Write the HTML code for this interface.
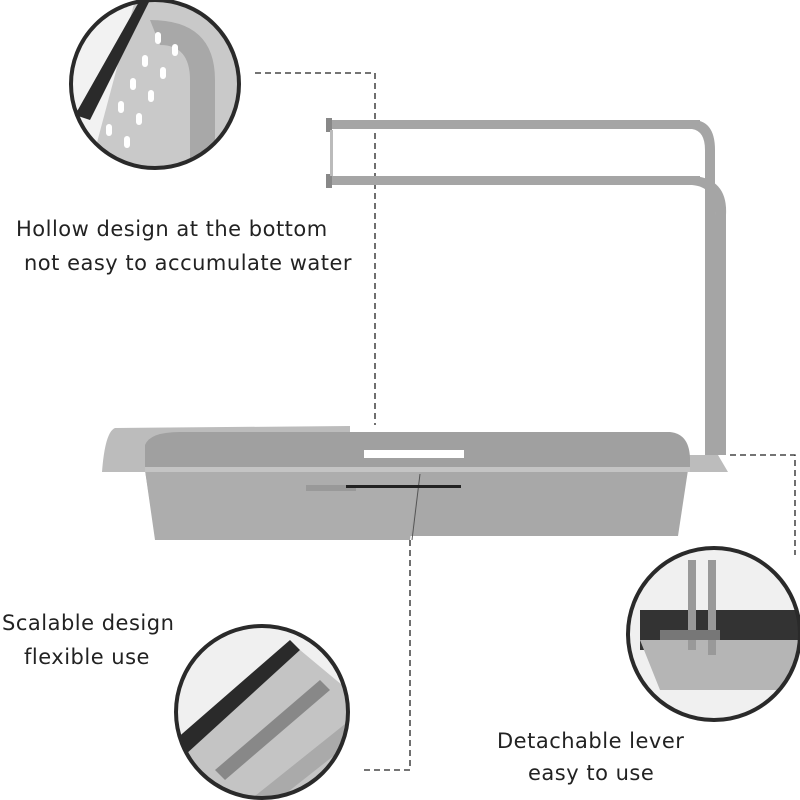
<!DOCTYPE html><html><head><style>body{margin:0;background:#fff}svg{display:block}text{font-family:"DejaVu Sans","Liberation Sans",sans-serif;font-size:21px;fill:#222;letter-spacing:0.5px}</style></head><body>
<svg width="800" height="800" viewBox="0 0 800 800">
<defs>
<clipPath id="c1"><circle cx="155" cy="84" r="84"/></clipPath>
<clipPath id="c2"><circle cx="262" cy="712" r="86"/></clipPath>
<clipPath id="c3"><circle cx="714" cy="634" r="86"/></clipPath>
</defs>
<g stroke="#222" stroke-width="1.3" stroke-dasharray="6,4" fill="none">
<path d="M255 73H375V425"/>
<path d="M410 540V770H360"/>
<path d="M730 455H795V555"/>
</g>
<g clip-path="url(#c1)">
<rect x="60" y="0" width="200" height="170" fill="#f2f2f2"/>
<polygon points="135,0 230,0 240,30 240,170 140,170 95,150" fill="#c9c9c9"/>
<polygon points="140,0 150,0 90,120 75,115" fill="#2a2a2a"/>
<path d="M150 20Q215 20 215 80V170H190V80Q190 45 160 45Z" fill="#a8a8a8"/>
<g fill="#fff"><rect x="155" y="32" width="6" height="12" rx="3"/><rect x="142" y="55" width="6" height="12" rx="3"/><rect x="130" y="78" width="6" height="12" rx="3"/><rect x="118" y="101" width="6" height="12" rx="3"/><rect x="106" y="124" width="6" height="12" rx="3"/><rect x="172" y="44" width="6" height="12" rx="3"/><rect x="160" y="67" width="6" height="12" rx="3"/><rect x="148" y="90" width="6" height="12" rx="3"/><rect x="136" y="113" width="6" height="12" rx="3"/><rect x="124" y="136" width="6" height="12" rx="3"/></g>
</g>
<circle cx="155" cy="84" r="84" fill="none" stroke="#2a2a2a" stroke-width="4"/>
<g clip-path="url(#c2)">
<rect x="170" y="620" width="190" height="190" fill="#f0f0f0"/>
<polygon points="175,760 300,650 360,700 360,810 230,810" fill="#c4c4c4"/>
<polygon points="175,740 290,640 300,650 185,755" fill="#2a2a2a"/>
<polygon points="215,770 320,680 330,690 225,780" fill="#888"/>
<polygon points="250,800 350,720 360,735 265,810" fill="#aaa"/>
</g>
<circle cx="262" cy="712" r="86" fill="none" stroke="#2a2a2a" stroke-width="4"/>
<g clip-path="url(#c3)">
<rect x="625" y="545" width="180" height="180" fill="#f0f0f0"/>
<rect x="640" y="610" width="170" height="40" fill="#333"/>
<polygon points="640,640 805,640 805,690 660,690" fill="#b5b5b5"/>
<rect x="688" y="560" width="8" height="90" fill="#999"/><rect x="708" y="560" width="8" height="95" fill="#999"/>
<rect x="660" y="630" width="60" height="10" fill="#777"/>
</g>
<circle cx="714" cy="634" r="86" fill="none" stroke="#2a2a2a" stroke-width="4"/>
<g fill="#a5a5a5">
<rect x="330" y="120" width="370" height="9"/>
<rect x="330" y="176" width="370" height="9"/>
<path d="M695 120Q715 122 715 150V455H705V150Q705 131 692 129Z"/>
<path d="M695 176Q728 180 726 215V455H715V215Q716 187 692 185Z"/>
<rect x="326" y="118" width="6" height="14" fill="#888"/><rect x="326" y="174" width="6" height="14" fill="#888"/>
<rect x="330" y="130" width="3" height="46" fill="#bbb"/>
</g>
<path d="M115 428Q105 432 102 472H728L718 455H350V426Z" fill="#bcbcbc"/>
<path d="M145 445Q150 432 180 432H670Q690 434 690 460V470H145Z" fill="#a0a0a0"/>
<path d="M145 470H688L678 536H155Z" fill="#a8a8a8"/>
<path d="M145 470H420L410 540H155Z" fill="#adadad"/>
<rect x="145" y="467" width="545" height="5" fill="#c4c4c4"/>
<line x1="420" y1="474" x2="412" y2="540" stroke="#555" stroke-width="1"/>
<rect x="364" y="450" width="100" height="8" fill="#fff"/>
<rect x="306" y="485" width="50" height="6" fill="#999"/>
<rect x="346" y="485" width="115" height="3" fill="#222"/>
<text x="16" y="236">Hollow design at the bottom</text>
<text x="24" y="270">not easy to accumulate water</text>
<text x="2" y="630">Scalable design</text>
<text x="24" y="664">flexible use</text>
<text x="497" y="748">Detachable lever</text>
<text x="528" y="780">easy to use</text>
</svg></body></html>
